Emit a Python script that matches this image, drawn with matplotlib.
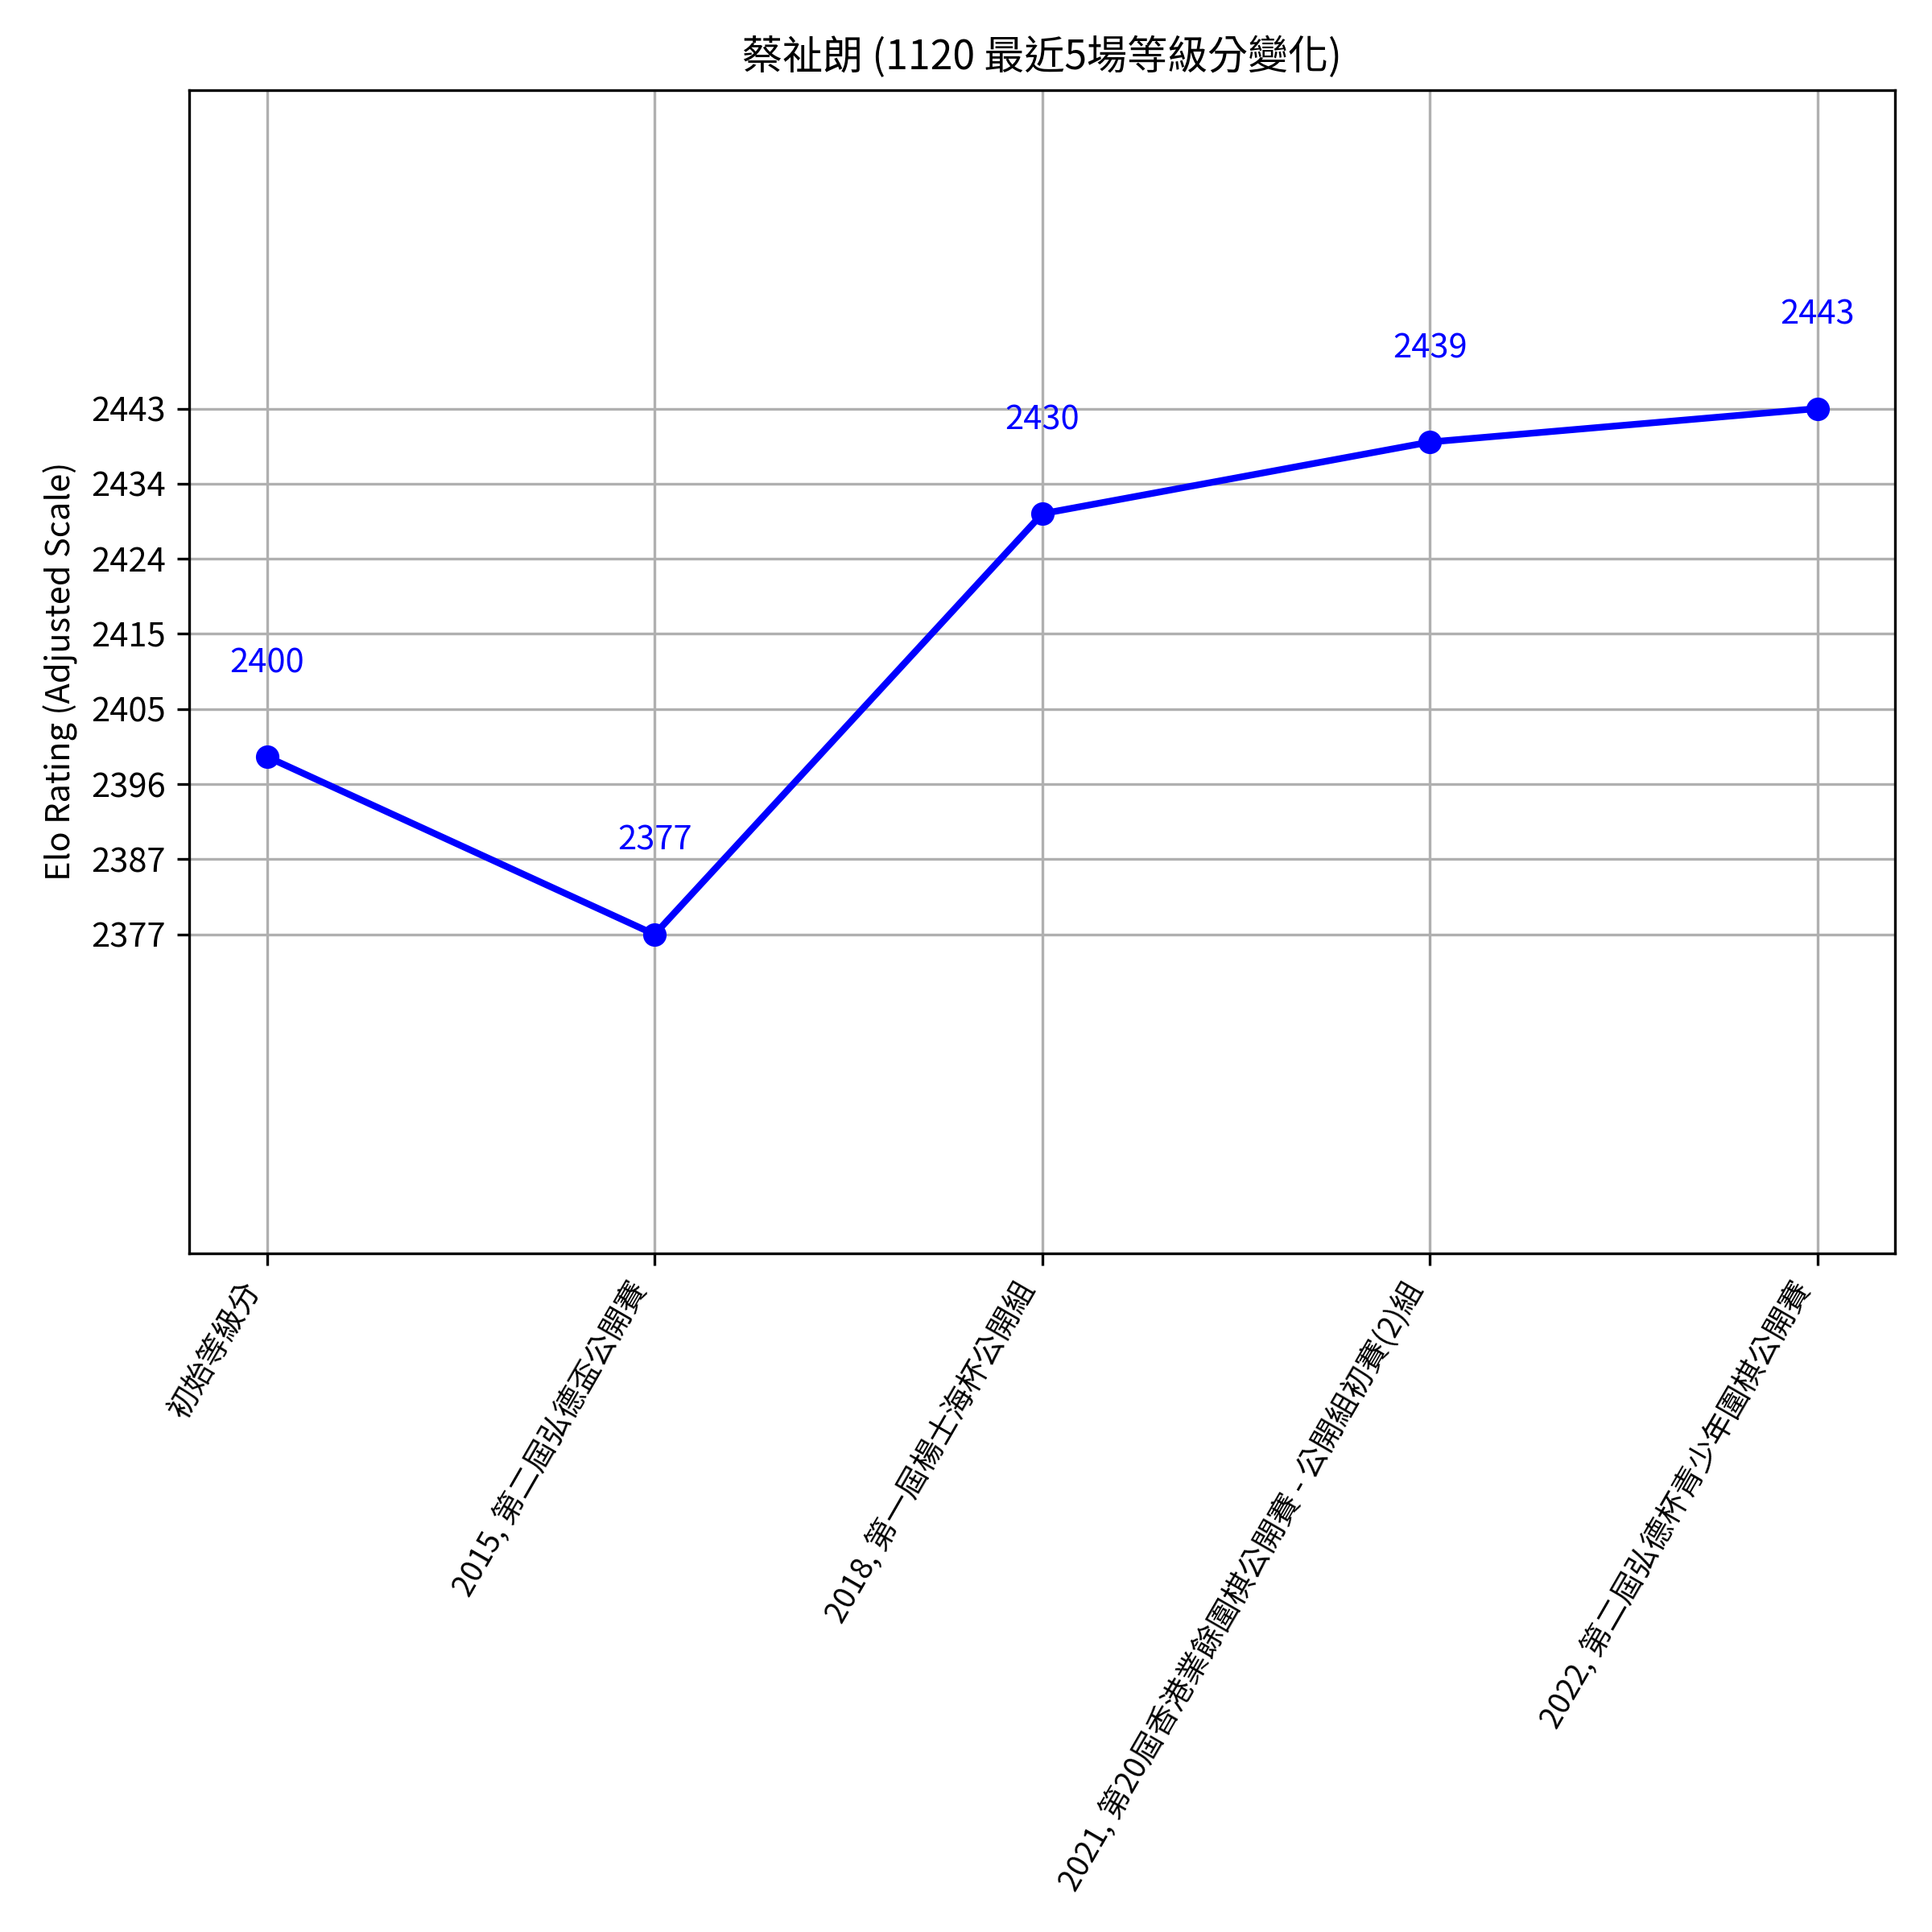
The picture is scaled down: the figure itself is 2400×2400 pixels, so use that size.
import numpy as np
import matplotlib
matplotlib.use('Agg')
import matplotlib.pyplot as plt

plt.rcParams['font.family'] = ['Noto Sans CJK TC', 'DejaVu Sans']
plt.rcParams['axes.unicode_minus'] = False

# --- Data ---
events = [
    '初始等級分',
    '2015, 第二屆弘德盃公開賽',
    '2018, 第一屆楊士海杯公開組',
    '2021, 第20屆香港業餘圍棋公開賽 - 公開組初賽(2)組',
    '2022, 第二屆弘德杯青少年圍棋公開賽',
]
ratings = [2399.3, 2377.0, 2429.8, 2438.8, 2443.0]
rating_labels = ['2400', '2377', '2430', '2439', '2443']
ytick_labels = ['2377', '2387', '2396', '2405', '2415', '2424', '2434', '2443']

fig, ax = plt.subplots(figsize=(8, 8), dpi=300)
x = np.arange(len(events))

ax.plot(x, ratings, marker='o', color='blue', linewidth=2)

# value labels above each point
for i, (v, lab) in enumerate(zip(ratings, rating_labels)):
    ax.text(i, v + 10.6, lab, ha='center', color='blue', fontsize=10)

ax.set_title('蔡祉朗 (1120 最近5場等級分變化)', fontsize=12)
ax.set_ylabel('Elo Rating (Adjusted Scale)', fontsize=10)

# long tournament names: a bit smaller so they fit (CJK font is wider)
ax.set_xticks(x)
ax.set_xticklabels(events, rotation=60, ha='right', fontsize=9.1)

lo, hi = min(ratings), max(ratings)
ax.set_yticks(np.linspace(lo, hi, len(ytick_labels)))
ax.set_yticklabels(ytick_labels, fontsize=10)
ax.set_ylim(lo - 40, hi + 40)

ax.grid(True)

fig.subplots_adjust(left=0.098, right=0.981, top=0.9535, bottom=0.3514)
fig.savefig('out.png', dpi=300)
